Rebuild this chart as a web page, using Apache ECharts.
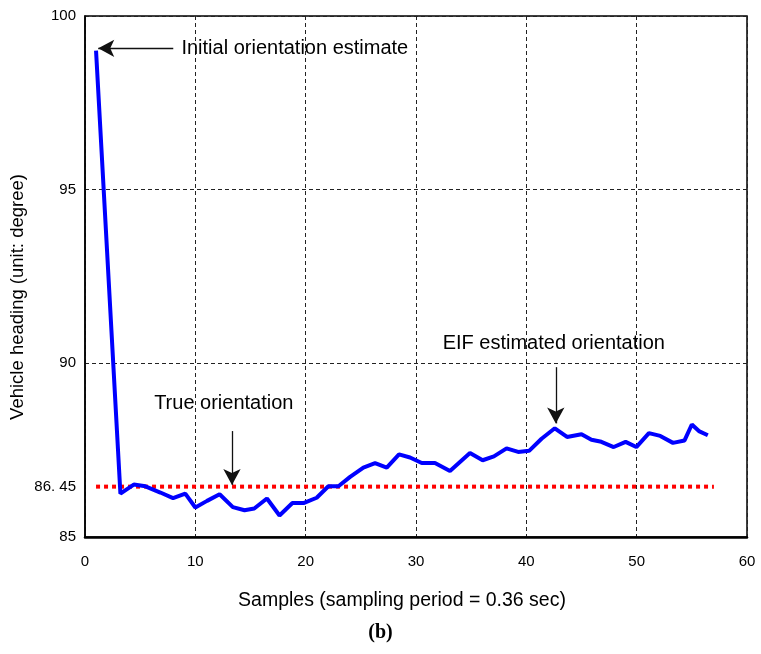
<!DOCTYPE html>
<html><head><meta charset="utf-8">
<script src="https://cdn.jsdelivr.net/npm/echarts@6/dist/echarts.min.js"></script>
<style>html,body{margin:0;padding:0;background:#fff}#c{width:761px;height:654px}</style>
</head><body><div id="c"></div>
<script>
// Samples (x) and EIF estimated heading (y)
const sampleX = [1.0,3.21,4.42,5.48,6.83,7.98,9.09,10.0,11.06,12.2,13.4,14.46,15.34,16.49,17.63,18.8,19.86,21.0,22.06,22.97,24.03,25.23,26.29,27.35,28.46,29.46,30.52,31.72,33.08,34.89,36.04,37.06,38.21,39.26,40.25,41.38,42.58,43.69,45.0,45.9,46.8,47.92,49.0,49.97,51.11,52.14,53.29,54.34,55.0,55.64,56.45];
const eifHeading = [99.0,86.25,86.51,86.46,86.28,86.12,86.25,85.85,86.04,86.23,85.86,85.77,85.82,86.11,85.62,85.98,85.98,86.13,86.46,86.46,86.73,87.0,87.13,87.0,87.38,87.29,87.13,87.13,86.9,87.42,87.21,87.32,87.55,87.45,87.48,87.83,88.13,87.88,87.96,87.8,87.74,87.59,87.74,87.59,87.99,87.91,87.71,87.78,88.24,88.05,87.93];
const trueX = [1, 57];
const trueHeading = [86.45, 86.45];
const xTicks = [0,10,20,30,40,50,60];
const yTickLabels = [85, 86.45, 90, 95, 100];
const xTitle = 'Samples (sampling period = 0.36 sec)';
const yTitle = 'Vehicle heading (unit: degree)';
// annotations: [text, textX, textY, align, arrowFromX, arrowFromY, arrowToX, arrowToY]
const annotations = [
  ['Initial orientation estimate', 8.74, 99.07, 'left', 8.0, 99.07, 1.2, 99.07],
  ['True orientation', 12.58, 88.85, 'center', 13.32, 88.05, 13.32, 86.5],
  ['EIF estimated orientation', 42.49, 90.58, 'center', 42.67, 89.89, 42.67, 88.27]
];

const FONT = '"Liberation Sans", Arial, Helvetica, sans-serif';
const chart = echarts.init(document.getElementById('c'), null, {renderer:'canvas'});
const option = {
  animation: false,
  backgroundColor: '#fff',
  title: {text: '(b)', left: 'center', top: 618,
    textStyle: {fontFamily: '"Liberation Serif", "Times New Roman", serif', fontWeight: 'bold', fontSize: 20, color: '#000'}},
  grid: {left: 85, top: 16, right: 14, bottom: 117, show: true, borderColor: '#000', borderWidth: 1.5, backgroundColor: 'transparent'},
  xAxis: {
    type: 'value', min: 0, max: 60, interval: 10,
    axisLine: {show: true, lineStyle: {color: '#000', width: 2.5}},
    axisTick: {show: false},
    axisLabel: {fontFamily: FONT, fontSize: 15, color: '#000', margin: 17},
    splitLine: {show: true, lineStyle: {color: '#222', type: [4, 3], width: 1}}
  },
  yAxis: {
    type: 'value', min: 85, max: 100, interval: 5,
    axisLine: {show: true, lineStyle: {color: '#000', width: 1.5}},
    axisTick: {show: false},
    axisLabel: {fontFamily: FONT, fontSize: 15, color: '#000', margin: 9,
      customValues: yTickLabels,
      formatter: v => Math.abs(v - 86.45) < 1e-6 ? '86. 45' : String(v)},
    splitLine: {show: true, lineStyle: {color: '#222', type: [4, 3], width: 1}}
  },
  series: [
    {type: 'line', data: trueX.map((x, i) => [x, trueHeading[i]]), symbol: 'none',
      lineStyle: {color: '#ff0000', width: 4, type: [4, 4]}, z: 3},
    {type: 'line', data: sampleX.map((x, i) => [x, eifHeading[i]]), symbol: 'none',
      lineStyle: {color: '#0000ff', width: 4}, z: 4},
    {type: 'line', data: [], silent: true,
      markLine: {silent: true, symbol: ['none', 'arrow'], symbolSize: [13, 16],
        lineStyle: {color: '#111', width: 1.3, type: 'solid'},
        label: {show: false},
        data: annotations.map(a => [{coord: [a[4], a[5]]}, {coord: [a[6], a[7]]}])}, z: 5}
  ]
};
chart.setOption(option);
const g = annotations.map(a => {
  const p = chart.convertToPixel({gridIndex: 0}, [a[1], a[2]]);
  return {type: 'text', x: p[0], y: p[1], z: 10,
    style: {text: a[0], fill: '#000', font: '20px ' + FONT, align: a[3], verticalAlign: 'middle'}};
});
g.push({type: 'text', x: 402, y: 601, z: 10,
  style: {text: xTitle, fill: '#000', font: '19.5px ' + FONT, align: 'center', verticalAlign: 'middle'}});
g.push({type: 'text', x: 18, y: 297, rotation: Math.PI / 2, z: 10,
  style: {text: yTitle, fill: '#000', font: '18.5px ' + FONT, align: 'center', verticalAlign: 'middle'}});
chart.setOption({graphic: g});
</script></body></html>
